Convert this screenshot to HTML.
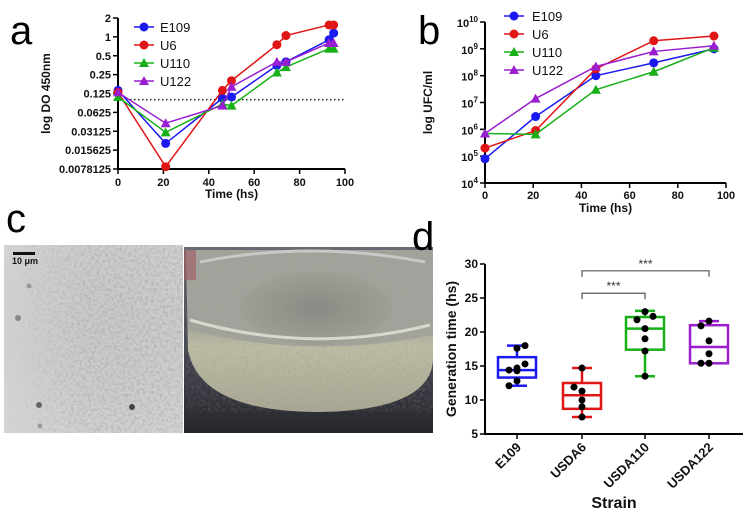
<!DOCTYPE html>
<html><head><meta charset="utf-8"><style>
body{margin:0;background:#fff}
svg{display:block;font-family:"Liberation Sans",Arial,sans-serif}
.t{font-size:11px;font-weight:bold;fill:#111}
.tt{font-size:12px;font-weight:bold;fill:#111}
.lg{font-size:13px;fill:#111}
.L{font-size:40px;fill:#000}
</style></head><body>
<svg id="fig" width="744" height="516" viewBox="0 0 744 516">
<defs>
<radialGradient id="micro" cx="0.6" cy="0.4" r="0.7"><stop offset="0" stop-color="#c8c8c8"/><stop offset="0.6" stop-color="#cdcdcd"/><stop offset="1" stop-color="#d3d3d3"/></radialGradient>
<linearGradient id="bg2" x1="0" y1="0" x2="0" y2="1"><stop offset="0" stop-color="#6a6a72"/><stop offset="0.6" stop-color="#45454f"/><stop offset="1" stop-color="#26262c"/></linearGradient>
<linearGradient id="liq" x1="0" y1="0" x2="0" y2="1"><stop offset="0" stop-color="#a8a89e"/><stop offset="0.45" stop-color="#a6a698"/><stop offset="0.6" stop-color="#bdbca4"/><stop offset="1" stop-color="#a9a792"/></linearGradient>
<radialGradient id="inner" cx="0.5" cy="0.5" r="0.6"><stop offset="0" stop-color="#8a8a84"/><stop offset="1" stop-color="#a4a49a"/></radialGradient>
<filter id="noise" x="0" y="0" width="1" height="1"><feTurbulence type="fractalNoise" baseFrequency="0.35" numOctaves="2" seed="3"/><feColorMatrix type="matrix" values="0 0 0 0 0.3  0 0 0 0 0.3  0 0 0 0 0.3  0 0 0 -2.2 1.3"/></filter>
<linearGradient id="fadeG" x1="0" y1="0" x2="1" y2="0"><stop offset="0" stop-color="#fff" stop-opacity="0"/><stop offset="0.45" stop-color="#fff" stop-opacity="1"/><stop offset="1" stop-color="#fff" stop-opacity="1"/></linearGradient>
<mask id="fadeM" maskContentUnits="userSpaceOnUse"><rect x="4" y="245" width="179" height="188" fill="url(#fadeG)"/></mask>
</defs>
<g id="pa"></g>
<g id="pb"></g>
<g id="pd"></g>
<g>
<rect x="4" y="245" width="179" height="188" fill="url(#micro)"/>
<g mask="url(#fadeM)"><rect x="4" y="245" width="179" height="188" filter="url(#noise)" opacity="0.45"/></g>
<circle cx="29" cy="286" r="2.5" fill="#999"/><circle cx="18" cy="318" r="3" fill="#888"/><circle cx="39" cy="405" r="3" fill="#666"/><circle cx="132" cy="407" r="3" fill="#444"/><circle cx="40" cy="426" r="2.5" fill="#999"/>
<rect x="13" y="252" width="22" height="3" fill="#111"/>
<text x="12" y="264" style="font-size:9px;font-weight:bold" fill="#111">10 μm</text>
</g>
<g>
<rect x="184" y="247" width="249" height="186" fill="url(#bg2)"/>
<path d="M186 250 H433 V360 Q430 410 320 412 Q200 412 188 350 Z" fill="url(#liq)"/>
<path d="M186 250 H433 V335 Q310 360 188 330 Z" fill="#a3a39c"/>
<ellipse cx="316" cy="308" rx="76" ry="37" fill="url(#inner)"/>
<rect x="186" y="250" width="247" height="162" filter="url(#noise)" opacity="0.25"/>
<path d="M190 320 Q310 355 430 325" stroke="#d8d8d0" stroke-width="3" fill="none"/>
<path d="M200 262 Q310 240 425 262" stroke="#c8c8c4" stroke-width="3" fill="none"/>
<rect x="184" y="250" width="12" height="30" fill="#a05a60" opacity="0.6"/>
</g>
<text class="L" x="10" y="44">a</text>
<text class="L" x="418" y="44">b</text>
<text class="L" x="6" y="232">c</text>
<text class="L" x="412" y="250">d</text>
</svg>
<script>
const NS='http://www.w3.org/2000/svg';
function mk(p,tag,at){const e=document.createElementNS(NS,tag);for(const k in at)e.setAttribute(k,at[k]);p.appendChild(e);return e;}
const colors=['#1a1af0','#e01515','#18b018','#9b1fd0'];
const seriesNames=['E109','U6','U110','U122'];
// Panel a data
const aTimes=[[0,21,46,50,70,74,93,95],[0,21,46,50,70,74,93,95],[0,21,46,50,70,74,93,95],[0,21,46,50,70,74,93,95]];
const aE109=[0.14,0.02,0.105,0.11,0.35,0.4,0.9,1.15];
const aU6=[0.13,0.0085,0.14,0.2,0.75,1.05,1.55,1.55];
const aU110=[0.11,0.03,0.085,0.08,0.27,0.33,0.65,0.65];
const aU122=[0.13,0.042,0.08,0.16,0.4,0.4,0.8,0.8];
const aTickLabels=['2','1','0.5','0.25','0.125','0.0625','0.03125','0.015625','0.0078125'];
const aXTicks=[0,20,40,60,80,100];
const aThreshold=0.1;
// Panel b data
const bTimes=[0,21,46,70,95];
const bE109=[8e4,3e6,1e8,3e8,1e9];
const bU6=[2e5,9e5,1.8e8,2e9,3e9];
const bU110=[7e5,6.5e5,3e7,1.4e8,1.1e9];
const bU122=[7e5,1.4e7,2.2e8,8e8,1.3e9];
const bExp=[4,5,6,7,8,9,10];
// Panel d data
const dCats=['E109','USDA6','USDA110','USDA122'];
const dMin=[12.1,7.5,13.5,15.4], dQ1=[13.3,8.7,17.4,15.4], dMed=[14.4,10.7,20.5,17.8], dQ3=[16.3,12.5,22.2,21], dMax=[18,14.7,23.1,21.6];
const dPts=[[17.6,18,14.4,14.7,15.3,14.3,12.8,12.1],[14.7,11.9,11.3,10,9,7.5],[23,22.3,21.8,20.5,19,17.2,13.5],[21.6,20.9,18.7,16.8,15.4,15.4]];
const dJit=[[0,1,-1,0,1,0,0,-1],[0,-1,0,0,0,0],[0,1,-1,0,0,0,0],[0,-1,0,0,-1,0]];
const dTicks=[5,10,15,20,25,30];
const dColors=['#1a1af0','#e01515','#18b018','#9b1fd0'];

function marker(g,i,x,y){
  if(i<2){return mk(g,'circle',{cx:x,cy:y,r:4.5,fill:colors[i]});}
  return mk(g,'polygon',{points:`${x},${y-5} ${x-5},${y+4} ${x+5},${y+4}`,fill:colors[i]});
}
// ---- Panel a
(function(){
 const g=document.getElementById('pa');
 const x0=118,x1=345,yTop=18,yBot=169;
 const X=t=>x0+(x1-x0)*t/100;
 const Y=v=>yTop+(1-Math.log2(v))*(yBot-yTop)/8;
 mk(g,'path',{d:`M${x0} ${yTop}V${yBot}H${x1}`,stroke:'#000','stroke-width':2,fill:'none'});
 aTickLabels.forEach(l=>{const y=Y(parseFloat(l));mk(g,'line',{x1:x0-5,x2:x0,y1:y,y2:y,stroke:'#000','stroke-width':1.5});const t=mk(g,'text',{x:x0-7,y:y+4,'text-anchor':'end',class:'t'});t.textContent=l;});
 aXTicks.forEach(v=>{const x=X(v);mk(g,'line',{x1:x,x2:x,y1:yBot,y2:yBot+5,stroke:'#000','stroke-width':1.5});const t=mk(g,'text',{x:x,y:yBot+17,'text-anchor':'middle',class:'t'});t.textContent=v;});
 const tl=mk(g,'text',{x:(x0+x1)/2,y:198,'text-anchor':'middle',class:'tt'});tl.textContent='Time (hs)';
 const yl=mk(g,'text',{transform:`translate(50 ${(yTop+yBot)/2}) rotate(-90)`,'text-anchor':'middle',class:'tt'});yl.textContent='log DO 450nm';
 const th=mk(g,'line',{x1:x0,x2:x1,y1:Y(aThreshold),y2:Y(aThreshold),stroke:'#222','stroke-dasharray':'1.5 2.5','stroke-width':1.5});
 
 
 [aE109,aU6,aU110,aU122].forEach((s,i)=>{
  const sg=mk(g,'g',{});
  
  
  mk(sg,'polyline',{points:s.map((v,j)=>X(aTimes[i][j])+','+Y(v)).join(' '),fill:'none',stroke:colors[i],'stroke-width':1.5});
  s.forEach((v,j)=>marker(sg,i,X(aTimes[i][j]),Y(v)));
 });
 seriesNames.forEach((n,i)=>{const y=27+i*18;const lg=mk(g,'g',{});
  
  
  mk(lg,'line',{x1:134,x2:154,y1:y,y2:y,stroke:colors[i],'stroke-width':1.5});marker(lg,i,144,y);const t=mk(lg,'text',{x:160,y:y+5,class:'lg'});t.textContent=n;});
})();
// ---- Panel b
(function(){
 const g=document.getElementById('pb');
 const x0=485,x1=726,yTop=22,yBot=183;
 const X=t=>x0+(x1-x0)*t/100;
 const Y=v=>yBot-(Math.log10(v)-4)*(yBot-yTop)/6;
 mk(g,'path',{d:`M${x0} ${yTop}V${yBot}H${x1}`,stroke:'#000','stroke-width':2,fill:'none'});
 bExp.forEach(e=>{const y=Y(Math.pow(10,e));mk(g,'line',{x1:x0-5,x2:x0,y1:y,y2:y,stroke:'#000','stroke-width':1.5});
  const t=mk(g,'text',{x:x0-7,y:y+5,'text-anchor':'end',class:'t'});t.textContent='10';const s=mk(t,'tspan',{dy:-5,style:'font-size:8px'});s.textContent=e;});
 [0,20,40,60,80,100].forEach(v=>{const x=X(v);mk(g,'line',{x1:x,x2:x,y1:yBot,y2:yBot+5,stroke:'#000','stroke-width':1.5});const t=mk(g,'text',{x:x,y:yBot+16,'text-anchor':'middle',class:'t'});t.textContent=v;});
 const tl=mk(g,'text',{x:(x0+x1)/2,y:212,'text-anchor':'middle',class:'tt'});tl.textContent='Time (hs)';
 const yl=mk(g,'text',{transform:`translate(432 ${(yTop+yBot)/2}) rotate(-90)`,'text-anchor':'middle',class:'tt'});yl.textContent='log UFC/ml';
 [bE109,bU6,bU110,bU122].forEach((s,i)=>{
  const sg=mk(g,'g',{});
  
  
  mk(sg,'polyline',{points:s.map((v,j)=>X(bTimes[j])+','+Y(v)).join(' '),fill:'none',stroke:colors[i],'stroke-width':1.5});
  s.forEach((v,j)=>marker(sg,i,X(bTimes[j]),Y(v)));
 });
 seriesNames.forEach((n,i)=>{const y=16+i*18;const lg=mk(g,'g',{});
  
  
  mk(lg,'line',{x1:504,x2:524,y1:y,y2:y,stroke:colors[i],'stroke-width':1.5});marker(lg,i,514,y);const t=mk(lg,'text',{x:532,y:y+5,class:'lg'});t.textContent=n;});
})();
// ---- Panel d
(function(){
 const g=document.getElementById('pd');
 const x0=485,x1=743,yTop=264,yBot=434;
 const Y=v=>yBot-(v-5)*(yBot-yTop)/25;
 const cx=[517,582,645,709];
 mk(g,'path',{d:`M${x0} ${yTop}V${yBot}H${x1}`,stroke:'#000','stroke-width':2,fill:'none'});
 dTicks.forEach(v=>{const y=Y(v);mk(g,'line',{x1:x0-5,x2:x0,y1:y,y2:y,stroke:'#000','stroke-width':1.5});const t=mk(g,'text',{x:x0-7,y:y+4,'text-anchor':'end',class:'t',style:'font-size:12px'});t.textContent=v;});
 const yl=mk(g,'text',{transform:`translate(456 ${(yTop+yBot)/2}) rotate(-90)`,'text-anchor':'middle',class:'tt',style:'font-size:14px'});yl.textContent='Generation time (hs)';
 const xl=mk(g,'text',{x:614,y:508,'text-anchor':'middle',class:'tt',style:'font-size:16px'});xl.textContent='Strain';
 dCats.forEach((c,i)=>{
  const x=cx[i],col=dColors[i],w=19;
  mk(g,'line',{x1:x,x2:x,y1:yBot,y2:yBot+5,stroke:'#000','stroke-width':1.5});
  const t=mk(g,'text',{transform:`translate(${x+5} ${yBot+14}) rotate(-45)`,'text-anchor':'end',class:'t',style:'font-size:13px'});t.textContent=c;
  const bg=mk(g,'g',{});
  
  
  mk(bg,'line',{x1:x,x2:x,y1:Y(dMax[i]),y2:Y(dMin[i]),stroke:col,'stroke-width':2.5});
  mk(bg,'line',{x1:x-10,x2:x+10,y1:Y(dMax[i]),y2:Y(dMax[i]),stroke:col,'stroke-width':2.5});
  mk(bg,'line',{x1:x-10,x2:x+10,y1:Y(dMin[i]),y2:Y(dMin[i]),stroke:col,'stroke-width':2.5});
  mk(bg,'rect',{x:x-w,y:Y(dQ3[i]),width:2*w,height:Y(dQ1[i])-Y(dQ3[i]),fill:'#fff',stroke:col,'stroke-width':2.5});
  mk(bg,'line',{x1:x-w,x2:x+w,y1:Y(dMed[i]),y2:Y(dMed[i]),stroke:col,'stroke-width':2.5});
  dPts[i].forEach((v,j)=>mk(bg,'circle',{cx:x+dJit[i][j]*8,cy:Y(v),r:3.5,fill:'#000'}));
 });
 const br=(a,b,yv)=>{const y=Y(yv);const p=mk(g,'path',{d:`M${cx[a]} ${y+6}V${y}H${cx[b]}V${y+6}`,stroke:'#555','stroke-width':1.2,fill:'none'});
  
  
  const t=mk(g,'text',{x:(cx[a]+cx[b])/2,y:y-3,'text-anchor':'middle',style:'font-size:12px',fill:'#333'});t.textContent='***';};
 br(1,2,25.7);br(1,3,29);
})();
</script>
</body></html>
